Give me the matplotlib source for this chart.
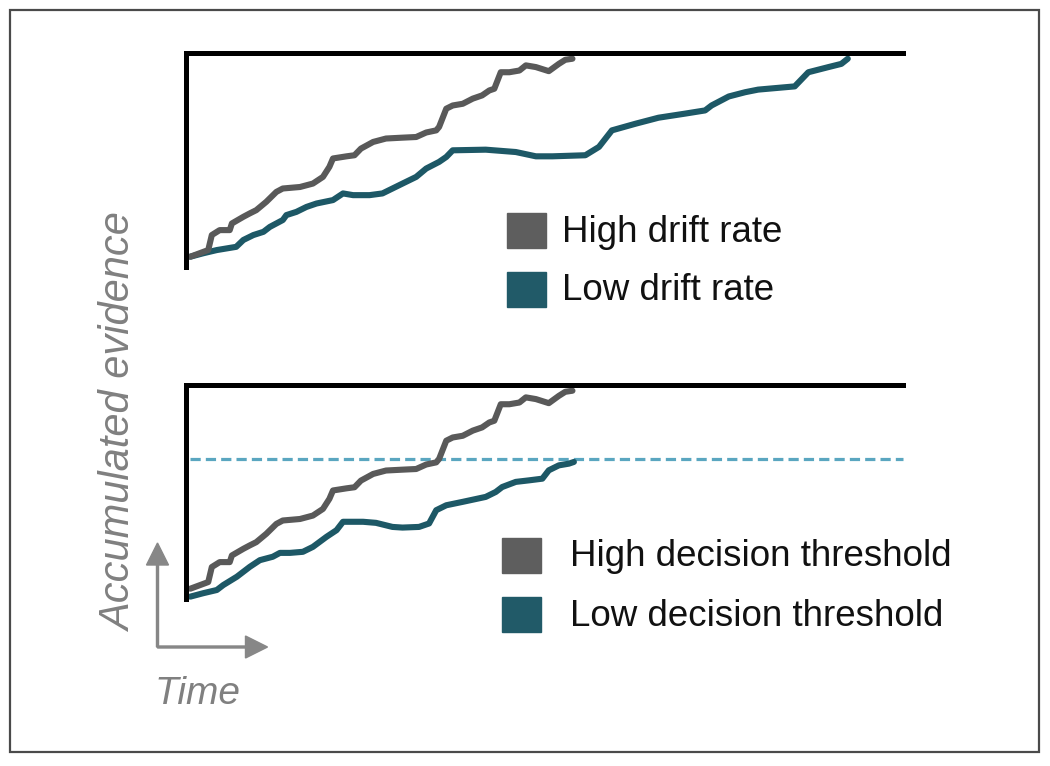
import numpy as np
import matplotlib
matplotlib.use('Agg')
import matplotlib.pyplot as plt
from matplotlib.patches import Rectangle, FancyArrow

plt.rcParams['font.family'] = ['Liberation Sans', 'DejaVu Sans']

# ---- data (time and evidence as fractions of each panel) ----
# high drift / high threshold trace (same path in both panels)
high_t = [0.006, 0.031, 0.036, 0.047, 0.061, 0.064, 0.080, 0.089, 0.098, 0.112,
          0.126, 0.135, 0.159, 0.177, 0.191, 0.200, 0.205, 0.224, 0.235, 0.244,
          0.261, 0.279, 0.302, 0.321, 0.335, 0.349, 0.353, 0.363, 0.372, 0.386,
          0.400, 0.413, 0.423, 0.430, 0.439, 0.451, 0.465, 0.474, 0.488, 0.506,
          0.520, 0.529, 0.539]
high_e = [0.048, 0.079, 0.149, 0.172, 0.172, 0.203, 0.234, 0.250, 0.265, 0.304,
          0.350, 0.366, 0.373, 0.389, 0.420, 0.467, 0.506, 0.516, 0.521, 0.552,
          0.583, 0.599, 0.603, 0.606, 0.627, 0.637, 0.653, 0.738, 0.753, 0.761,
          0.785, 0.800, 0.823, 0.831, 0.908, 0.908, 0.916, 0.940, 0.932, 0.913,
          0.947, 0.966, 0.971]

# low drift rate trace (top panel)
lowdrift_t = [0.006, 0.024, 0.043, 0.070, 0.080, 0.094, 0.108, 0.117, 0.135, 0.140,
              0.154, 0.168, 0.182, 0.205, 0.219, 0.233, 0.256, 0.274, 0.288, 0.302,
              0.321, 0.335, 0.353, 0.363, 0.372, 0.418, 0.460, 0.488, 0.511, 0.557,
              0.576, 0.594, 0.627, 0.659, 0.696, 0.724, 0.733, 0.757, 0.780, 0.798,
              0.849, 0.868, 0.896, 0.914, 0.923]
lowdrift_e = [0.048, 0.064, 0.079, 0.094, 0.126, 0.149, 0.164, 0.187, 0.219, 0.242,
              0.257, 0.280, 0.296, 0.312, 0.343, 0.335, 0.335, 0.343, 0.366, 0.389,
              0.420, 0.459, 0.490, 0.513, 0.544, 0.547, 0.536, 0.516, 0.516, 0.521,
              0.560, 0.637, 0.668, 0.696, 0.715, 0.730, 0.753, 0.795, 0.815, 0.827,
              0.842, 0.908, 0.932, 0.947, 0.971]

# low decision threshold trace (bottom panel)
lowthr_t = [0.006, 0.024, 0.043, 0.052, 0.071, 0.089, 0.103, 0.121, 0.131, 0.145,
            0.163, 0.177, 0.196, 0.210, 0.219, 0.247, 0.265, 0.288, 0.302, 0.325,
            0.339, 0.349, 0.363, 0.386, 0.418, 0.432, 0.441, 0.460, 0.478, 0.497,
            0.506, 0.520, 0.534, 0.541]
lowthr_e = [0.011, 0.027, 0.042, 0.065, 0.104, 0.150, 0.181, 0.197, 0.215, 0.215,
            0.220, 0.243, 0.290, 0.321, 0.360, 0.360, 0.355, 0.336, 0.333, 0.336,
            0.352, 0.414, 0.437, 0.453, 0.476, 0.499, 0.522, 0.546, 0.553, 0.561,
            0.600, 0.623, 0.631, 0.639]

low_threshold = 0.651

top_labels = ['High drift rate', 'Low drift rate']
bottom_labels = ['High decision threshold', 'Low decision threshold']

grey = '#595959'
teal = '#1d5866'
W, H = 1050, 766

fig = plt.figure(figsize=(10.5, 7.66), dpi=100)

# overlay axes in pixel units for the frame, arrows and labels
deco = fig.add_axes([0, 0, 1, 1])
deco.set_xlim(0, W)
deco.set_ylim(H, 0)
deco.axis('off')
deco.add_patch(Rectangle((10, 10), 1029, 742, fill=False, ec='#4a4a4a', lw=1.6))


def panel(top_px, bottom_px):
    ax = fig.add_axes([186 / W, 1 - bottom_px / H, (903 - 186) / W, (bottom_px - top_px) / H])
    ax.set_xlim(0, 1)
    ax.set_ylim(0, 1)
    for s in ['right', 'bottom']:
        ax.spines[s].set_visible(False)
    for s in ['left', 'top']:
        ax.spines[s].set_linewidth(3.6)
        ax.spines[s].set_color('black')
    ax.set_xticks([])
    ax.set_yticks([])
    ax.patch.set_alpha(0)
    return ax


ax1 = panel(52.5, 267)
ax1.plot(lowdrift_t, lowdrift_e, color=teal, lw=4.4, solid_joinstyle='round',
         solid_capstyle='round', clip_on=False)
ax1.plot(high_t, high_e, color=grey, lw=4.4, solid_joinstyle='round',
         solid_capstyle='round', clip_on=False)

ax2 = panel(384.5, 599)
ax2.plot([0.006, 1], [low_threshold, low_threshold], color='#5aa6c0', lw=2.3,
         dashes=(3.2, 1.6), clip_on=False)
ax2.plot(lowthr_t, lowthr_e, color=teal, lw=4.4, solid_joinstyle='round',
         solid_capstyle='round', clip_on=False)
ax2.plot(high_t, high_e, color=grey, lw=4.4, solid_joinstyle='round',
         solid_capstyle='round', clip_on=False)

# legends
for (x0, y0, tx, labels) in [(507, 213, 562, top_labels), (502, 538, 570, bottom_labels)]:
    for i, (lab, c) in enumerate(zip(labels, ['#5e5e5e', '#215a68'])):
        yy = y0 + i * 59
        deco.add_patch(Rectangle((x0, yy), 39, 35, color=c))
        deco.text(tx, yy + 19, lab, fontsize=26.5, va='center', ha='left', color='#111111')

# axis labels and arrows
deco.text(120, 423, 'Accumulated evidence', rotation=90, fontsize=30, style='italic',
          color='#808080', ha='center', va='center')
deco.text(197, 694, 'Time', fontsize=28, style='italic', color='#808080',
          ha='center', va='center')
deco.add_patch(FancyArrow(157.5, 647, 0, -82, width=2, head_width=22, head_length=22,
                          color='#878787', length_includes_head=False))
deco.add_patch(FancyArrow(157.5, 647, 88, 0, width=2, head_width=22, head_length=22,
                          color='#878787', length_includes_head=False))

fig.savefig('out.png', dpi=100)
